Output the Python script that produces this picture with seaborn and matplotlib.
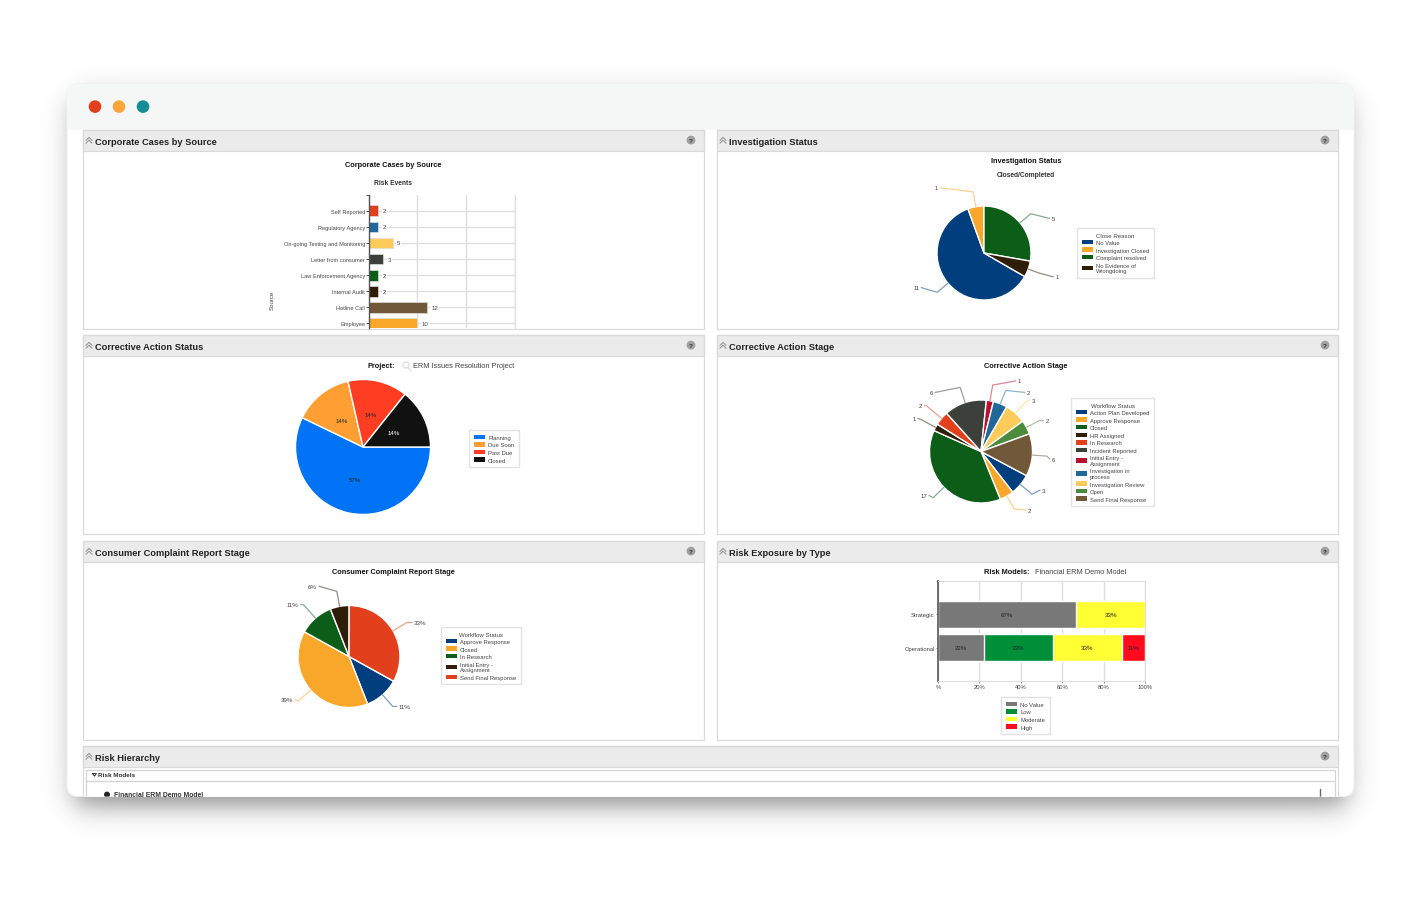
# Recreation of the ERM dashboard screenshot

import matplotlib
matplotlib.use("Agg")
import matplotlib.pyplot as plt
from matplotlib.patches import FancyBboxPatch, Rectangle, Circle, Patch
import numpy as np
import pandas as pd
import seaborn as sns

W, H = 1416, 904

sns.set_style("white")
plt.rcParams['font.family'] = ['Liberation Sans', 'DejaVu Sans']

# colours shared by most widgets
NAVY = '#003e7e'
ORANGE = '#f9a72b'
GREEN = '#0b5d18'
DARK = '#2e1e08'
RED = '#e2401c'
CHARCOAL = '#3c403a'
CRIMSON = '#b5112e'
BLUE = '#20689c'
YELLOW = '#fdcb5a'
MIDGREEN = '#4c8a3e'
BROWN = '#715838'

# Corporate Cases by Source
source_names = ['Self Reported', 'Regulatory Agency', 'On-going Testing and Monitoring',
                'Letter from consumer', 'Law Enforcement Agency', 'Internal Audit',
                'Hotline Call', 'Employee']
source_counts = [2, 2, 5, 3, 2, 2, 12, 10]
source_colors = [RED, BLUE, YELLOW, CHARCOAL, GREEN, DARK, BROWN, ORANGE]

# Investigation Status
close_reasons = ['No Value', 'Investigation Closed', 'Complaint resolved',
                 'No Evidence of\nWrongdoing']
close_counts = [11, 1, 5, 1]
close_colors = [NAVY, ORANGE, GREEN, DARK]

# Corrective Action Status
action_status = ['Planning', 'Due Soon', 'Past Due', 'Closed']
action_counts = [4, 1, 1, 1]
action_colors = ['#0073f7', '#ff9f33', '#ff3d22', '#111111']

# Corrective Action Stage
stage_names = ['Action Plan Developed', 'Approve Response', 'Closed', 'HR Assigned',
               'In Research', 'Incident Reported', 'Initial Entry -\nAssignment',
               'Investigation in\nprocess', 'Investigation Review', 'Open',
               'Send Final Response']
stage_counts = [3, 2, 17, 1, 2, 6, 1, 2, 3, 2, 6]
stage_colors = [NAVY, ORANGE, GREEN, DARK, RED, CHARCOAL, CRIMSON, BLUE, YELLOW,
                MIDGREEN, BROWN]

# Consumer Complaint Report Stage
complaint_names = ['Approve Response', 'Closed', 'In Research',
                   'Initial Entry -\nAssignment', 'Send Final Response']
complaint_pct = [11, 39, 11, 6, 33]
complaint_colors = [NAVY, ORANGE, GREEN, DARK, RED]

# Risk Exposure by Type
risk_types = ['Strategic', 'Operational']
risk_levels = ['No Value', 'Low', 'Moderate', 'High']
risk_strategic = [66.7, 0, 33.3, 0]
risk_operational = [22.2, 33.3, 33.3, 11.2]
risk_colors = ['#787878', '#008f39', '#ffff33', '#ff0a1e']
risk_ticks = [0, 20, 40, 60, 80, 100]
risk_ticklabels = ['%', '20%', '40%', '60%', '80%', '100%']

# leader line layout per slice: elbow radius, end dx, end dy (in pie radii)
close_leaders = [(1.30, -.34, .10), (1.32, -.70, .085), (1.30, .40, -.10), (1.25, .30, -.08)]
stage_leaders = [(1.29, .16, .08), (1.29, .23, -.02), (1.29, -.08, .04), (1.33, -.05, .02),
                 (1.38, -.04, 0), (1.31, -.49, -.10), (1.31, .45, .08), (1.28, .37, -.04),
                 (1.29, .08, .04), (1.28, .08, 0), (1.28, .06, -.06)]
complaint_leaders = [(1.30, .08, 0), (1.33, -.06, .04), (1.35, -.06, 0), (1.30, -.35, .10),
                     (1.32, .10, 0)]

HEADER_SIZE = 6.7
TITLE_SIZE = 5.35
SMALL = 4.4
LEGEND_SIZE = 4.25


def ax_px(x0, y0, x1, y1, **kw):
    """Axes placed by pixel box, y measured from the top"""
    return fig.add_axes([x0 / W, 1 - y1 / H, (x1 - x0) / W, (y1 - y0) / H], **kw)


def add_legend(ax, labels, colors, x, y, title=None):
    handles = [Patch(facecolor=c, edgecolor='none') for c in colors]
    leg = ax.legend(handles, labels, title=title, loc='upper left',
                    bbox_to_anchor=(x / W, 1 - y / H), bbox_transform=fig.transFigure,
                    borderaxespad=0, fontsize=LEGEND_SIZE, title_fontsize=LEGEND_SIZE + 0.2,
                    frameon=True, fancybox=False, edgecolor='#e2e2e2', framealpha=1,
                    labelspacing=0.38, handlelength=1.9, handleheight=0.8,
                    handletextpad=0.55, borderpad=0.78, labelcolor='#444444')
    leg.get_frame().set_linewidth(1.0)
    if title:
        leg.get_title().set_color('#444444')
    return leg


def draw_pie(cx, cy, r, values, colors, start, texts=None, leaders=None, autopct=None):
    span = 2.2
    ax = ax_px(cx - span * r, cy - span * r, cx + span * r, cy + span * r)
    wedges = ax.pie(values, colors=colors, startangle=start, counterclock=False,
                    radius=1, autopct=autopct, pctdistance=0.5,
                    textprops={'fontsize': SMALL, 'color': '#222222'})
    ax.set_xlim(-span, span)
    ax.set_ylim(-span, span)
    ax.patch.set_visible(False)
    if texts is not None:
        for wedge, txt, (er, dx, dy) in zip(wedges[0], texts, leaders):
            ang = np.deg2rad((wedge.theta1 + wedge.theta2) / 2)
            px, py = np.cos(ang), np.sin(ang)
            ex, ey = er * px, er * py
            ax.plot([px, ex, ex + dx], [py, ey, ey + dy], color=wedge.get_facecolor(),
                    lw=0.9, alpha=0.5, clip_on=False, solid_joinstyle='miter')
            ax.text(ex + dx + np.sign(dx) * 0.04, ey + dy, txt, fontsize=SMALL, color='#444444',
                    ha='left' if dx > 0 else 'right', va='center')
    return ax, wedges


def draw_panel(x0, y0, x1, y1, title, clip=None):
    body = Rectangle((x0, y0), x1 - x0, y1 - y0, fc='white', ec='#dadada', lw=0.9)
    head = Rectangle((x0, y0), x1 - x0, 21, fc='#ebebeb', ec='#dadada', lw=0.9)
    bg.add_patch(body)
    bg.add_patch(head)
    # collapse chevrons
    cx, cy = x0 + 6, y0 + 11
    for off in (-2.2, 0.6):
        bg.plot([cx - 3, cx, cx + 3], [cy + off + 2, cy + off - 1, cy + off + 2],
                color='#999999', lw=0.8)
    bg.text(x0 + 12, cy + 0.5, title, fontsize=HEADER_SIZE, fontweight='bold', color='#222222',
            va='center', ha='left')
    bg.add_patch(Circle((x1 - 13, cy - 0.5), 4.4, fc='#a0a0a0', ec='none'))
    bg.text(x1 - 13, cy - 0.3, '?', fontsize=4.6, fontweight='bold', color='#333333',
            ha='center', va='center')
    if clip is not None:
        for a in [body, head]:
            a.set_clip_path(clip)


fig = plt.figure(figsize=(W / 100, H / 100), dpi=100, facecolor='white')

# page background, window and panels are drawn in pixel coordinates
bg = fig.add_axes([0, 0, 1, 1])

# soft window shadow
sx = np.arange(W) + 0.5
sy = np.arange(H) + 0.5
fall_x = 0.5 * (np.tanh((sx - 75) / 16) - np.tanh((sx - 1346) / 16))
fall_y = 0.5 * (np.tanh((sy - 100) / 16) - np.tanh((sy - 806) / 16))
shadow = np.zeros((H, W, 4))
shadow[..., 3] = 0.45 * np.outer(fall_y, fall_x)
bg.imshow(shadow, extent=(0, W, H, 0), aspect='auto', interpolation='bilinear')
bg.set_xlim(0, W)
bg.set_ylim(H - 0.6, -0.6)
bg.axis('off')

window = FancyBboxPatch((67, 84), 1287, 713, boxstyle="round,pad=0,rounding_size=11",
                        fc='white', ec='#f0f0f0', lw=0.6)
bg.add_patch(window)
title_bar = Rectangle((67, 84), 1287, 46, fc='#f5f7f7', ec='none')
bg.add_patch(title_bar)
title_bar.set_clip_path(window)
for dot_x, dot_c in zip([95, 119, 143], ['#e2401c', '#fba63a', '#158d96']):
    bg.add_patch(Circle((dot_x, 107), 6.3, fc=dot_c, ec='none'))

draw_panel(83, 130, 704, 329, 'Corporate Cases by Source')
draw_panel(717, 130, 1338, 329, 'Investigation Status')
draw_panel(83, 335, 704, 534, 'Corrective Action Status')
draw_panel(717, 335, 1338, 534, 'Corrective Action Stage')
draw_panel(83, 541, 704, 740, 'Consumer Complaint Report Stage')
draw_panel(717, 541, 1338, 740, 'Risk Exposure by Type')
draw_panel(83, 746, 1338, 815, 'Risk Hierarchy', clip=window)

# Risk Hierarchy tree stub
tree = Rectangle((86, 770), 1249, 40, fc='white', ec='#d4d4d4', lw=0.9)
bg.add_patch(tree)
tree.set_clip_path(window)
bg.plot([86, 1335], [781, 781], color='#d4d4d4', lw=0.9)
bg.plot([92.5, 96.5, 94.5, 92.5], [774, 774, 776.5, 774], color='#333333', lw=0.7)
bg.text(98, 775, 'Risk Models', fontsize=4.6, fontweight='bold', color='#333333',
        ha='left', va='center')
tree_dot = Circle((107, 795), 3, fc='#222222', ec='none')
bg.add_patch(tree_dot)
tree_dot.set_clip_path(window)
t = bg.text(114, 795, 'Financial ERM Demo Model', fontsize=4.9, fontweight='bold', color='#333333',
            ha='left', va='center', clip_on=True)
t.set_clip_path(window)
tree_mark = bg.plot([1320, 1320], [789, 800], color='#666666', lw=1.0)[0]
tree_mark.set_clip_path(window)


def center_text(x, y, s, size=TITLE_SIZE, weight='bold', color='#111111', ha='center'):
    bg.text(x, y, s, fontsize=size, fontweight=weight, color=color, ha=ha, va='center')


center_text(393, 165, 'Corporate Cases by Source')
center_text(393, 183, 'Risk Events', size=4.8, color='#333333')
center_text(1026, 161, 'Investigation Status')
center_text(1026, 175, 'Closed/Completed', size=4.8, color='#333333')
center_text(395, 366, 'Project:', ha='right')
center_text(413, 366, 'ERM Issues Resolution Project', weight='normal', color='#444444', ha='left')
bg.add_patch(Circle((406, 365.5), 3, fc='none', ec='#dddddd', lw=0.9))
bg.plot([408, 411], [368, 371], color='#dddddd', lw=0.9)
center_text(1026, 366, 'Corrective Action Stage')
center_text(393, 572, 'Consumer Complaint Report Stage')
center_text(1029, 572, 'Risk Models:', ha='right')
center_text(1035, 572, 'Financial ERM Demo Model', weight='normal', color='#444444', ha='left')

# 1. Corporate Cases by Source
ax1 = ax_px(368.7, 195.7, 514.7, 329)
sns.barplot(x=source_counts, y=source_names, hue=source_names, palette=source_colors,
            legend=False, saturation=1, width=0.66, ax=ax1, edgecolor='#dddddd', linewidth=0.5)
ax1.set_xlim(0, 30)
ax1.set_ylim(7.28, -1)
ax1.set_xticks([0, 10, 20, 30])
ax1.set_xticklabels([])
ax1.set_xlabel('')
ax1.set_axisbelow(True)
ax1.grid(True, color='#dedede', lw=1.0)
ax1.patch.set_visible(False)
for side in ['top', 'bottom']:
    ax1.spines[side].set_visible(False)
ax1.spines['right'].set_color('#dedede')
ax1.spines['left'].set_color('#555555')
ax1.spines['left'].set_linewidth(1.0)
ax1.tick_params(axis='y', left=True, length=2, width=0.7, color='#555555', labelsize=4.1,
                labelcolor='#444444', pad=0.5)
ax1.tick_params(axis='x', bottom=False)
ax1.set_yticks([-1], minor=True)
ax1.tick_params(axis='y', which='minor', left=True, length=2, width=0.7, color='#555555')
for bars in ax1.containers:
    ax1.bar_label(bars, padding=3, fontsize=SMALL, color='#444444',
                  bbox=dict(fc='white', ec='none', pad=0.6))
bg.text(272, 300, 'Source', fontsize=SMALL, color='#444444', rotation=90, ha='center', va='center')

# 2. Investigation Status
ax2, _ = draw_pie(984, 254, 47, close_counts, close_colors, 330,
                  [str(v) for v in close_counts], close_leaders)
add_legend(ax2, close_reasons, close_colors, 1077, 229, 'Close Reason')

# 3. Corrective Action Status
ax3, pie3 = draw_pie(363, 448, 67.5, action_counts, action_colors, 0, autopct='%.0f%%')
pie3[2][-1].set_color('white')
add_legend(ax3, action_status, action_colors, 469, 431)

# 4. Corrective Action Stage
ax4, _ = draw_pie(981, 452.5, 51.5, stage_counts, stage_colors, 332,
                  [str(v) for v in stage_counts], stage_leaders)
add_legend(ax4, stage_names, stage_colors, 1071, 399, 'Workflow Status')

# 5. Consumer Complaint Report Stage
ax5, _ = draw_pie(349, 657.5, 51, complaint_pct, complaint_colors, 331,
                  ['%d%%' % v for v in complaint_pct], complaint_leaders)
add_legend(ax5, complaint_names, complaint_colors, 441, 628, 'Workflow Status')

# 6. Risk Exposure by Type, stacked by layering cumulative bars
ax6 = ax_px(938, 582, 1145, 682)
risk_df = pd.DataFrame([risk_strategic, risk_operational], index=risk_types, columns=risk_levels)
risk_cum = risk_df.cumsum(axis=1)
for level, color in reversed(list(zip(risk_levels, risk_colors))):
    keep = risk_df[level] > 0
    sns.barplot(x=risk_cum.loc[keep, level].values, y=list(risk_df.index[keep]), order=risk_types,
                color=color, saturation=1, width=0.8, ax=ax6)
ax6.set_xlim(0, 100)
ax6.set_ylim(2, -1)
ax6.set_xticks(risk_ticks)
ax6.set_xticklabels(risk_ticklabels)
ax6.set_axisbelow(True)
ax6.grid(True, axis='x', color='#dedede', lw=1.0)
ax6.patch.set_visible(False)
for side in ['top', 'right', 'bottom']:
    ax6.spines[side].set_color('#dedede')
ax6.spines['left'].set_color('#555555')
ax6.spines['left'].set_linewidth(1.2)
ax6.tick_params(axis='both', left=True, bottom=True, length=1.5, width=0.6, color='#777777',
                labelsize=4.2, labelcolor='#444444', pad=0.8)
ax6.set_yticks([-1], minor=True)
ax6.tick_params(axis='y', which='minor', left=True, length=1.5, width=0.6, color='#777777')
for row, rtype in enumerate(risk_types):
    for level in risk_levels:
        val = risk_df.loc[rtype, level]
        if val > 0:
            ax6.text(risk_cum.loc[rtype, level] - val / 2, row, '%.0f%%' % val, fontsize=SMALL,
                     color='#222222', ha='center', va='center')
add_legend(ax6, risk_levels, risk_colors, 1001, 698)

fig.savefig('out.png', dpi=100, facecolor='white')
